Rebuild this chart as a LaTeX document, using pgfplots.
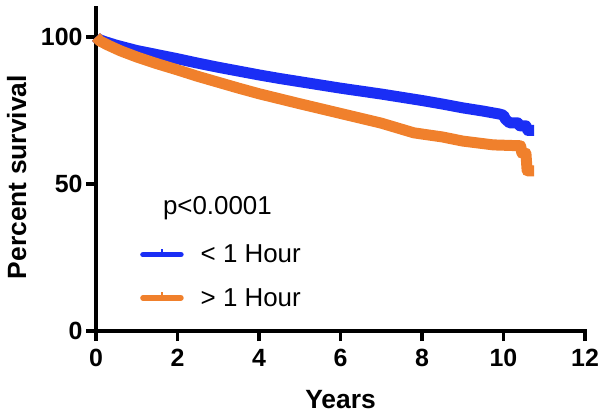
\documentclass[border=0pt]{standalone}
\usepackage{fontspec}
\setmainfont{Liberation Sans}
\usepackage{pgfplots}
\pgfplotsset{compat=1.18}
\definecolor{kmblue}{RGB}{26,46,245}
\definecolor{kmorange}{RGB}{240,128,44}
\begin{document}
\begin{tikzpicture}[x=1bp,y=1bp]
\begin{axis}[
  scale only axis,
  width=489bp, height=323.4bp,
  xmin=0, xmax=12, ymin=0, ymax=110,
  axis x line*=bottom, axis y line*=left,
  axis line style={line width=3.5bp, line cap=rect},
  xtick={0,2,...,12}, ytick={0,50,100},
  tick align=outside, major tick length=10bp,
  tick style={line width=3.5bp, black},
  ticklabel style={font=\fontsize{25}{25}\selectfont\bfseries},
  xticklabel style={yshift=-5bp},
  /pgf/number format/assume math mode=true,
  xlabel={Years}, ylabel={Percent survival},
  label style={font=\fontsize{26.5}{26.5}\selectfont\bfseries},
  xlabel style={at={(axis description cs:0.5,-0.213)}, anchor=center},
  ylabel style={at={(axis description cs:-0.162,0.476)}, anchor=center, rotate=0},
  clip=false,
  legend style={draw=none, fill=none, at={(axis cs:1.08,30)}, anchor=north west,
    font=\fontsize{26}{26}\selectfont, row sep=20bp, inner sep=0pt,
    /tikz/every odd column/.append style={column sep=15bp}},
  legend cell align=left,
  legend image code/.code={
    \draw[#1, line width=5.5bp, line cap=round] (0bp,0bp) -- (38bp,0bp);
    \draw[#1, line width=2.5bp, line cap=butt] (19bp,0bp) -- (19bp,6bp);
  },
]
\addplot[kmblue, line width=11bp, line join=round] coordinates {
(0,100)(0.05,99.3)(0.2,98.5)(0.5,97.2)(1,95.4)(1.5,94)(2,92.6)(2.5,91.1)(3,89.7)(3.5,88.4)(4,87.1)(4.5,85.9)(5,84.8)(5.5,83.7)(6,82.6)(6.5,81.6)(7,80.6)(7.5,79.5)(8,78.4)(8.5,77.2)(9,75.9)(9.5,74.8)(9.9,73.8)(10,73.4)(10.05,72)(10.15,70.8)(10.35,70.8)(10.4,69.8)(10.55,69.8)(10.6,68.2)(10.75,68.2)
};
\addlegendentry{< 1 Hour}
\addplot[kmorange, line width=11bp, line join=round] coordinates {
(0,100)(0.1,98.6)(0.3,97.2)(0.6,95.3)(1,93.2)(1.5,90.9)(2,88.8)(2.5,86.6)(3,84.6)(3.5,82.6)(4,80.7)(5,77.3)(6,74)(7,70.7)(7.8,67.4)(8.5,66)(9,64.6)(9.75,63.3)(10.42,63)(10.45,60.5)(10.55,60.5)(10.58,54.5)(10.75,54.5)
};
\addlegendentry{> 1 Hour}
\node[anchor=west, font=\fontsize{26}{26}\selectfont, inner sep=0pt] at (axis cs:1.64,41.8) {p<0.0001};
\coordinate (o) at (rel axis cs:0,0);
\end{axis}
\pgfresetboundingbox
\path (o) ++(-96bp,-85bp) rectangle ++(604bp,416bp);
\end{tikzpicture}
\end{document}
